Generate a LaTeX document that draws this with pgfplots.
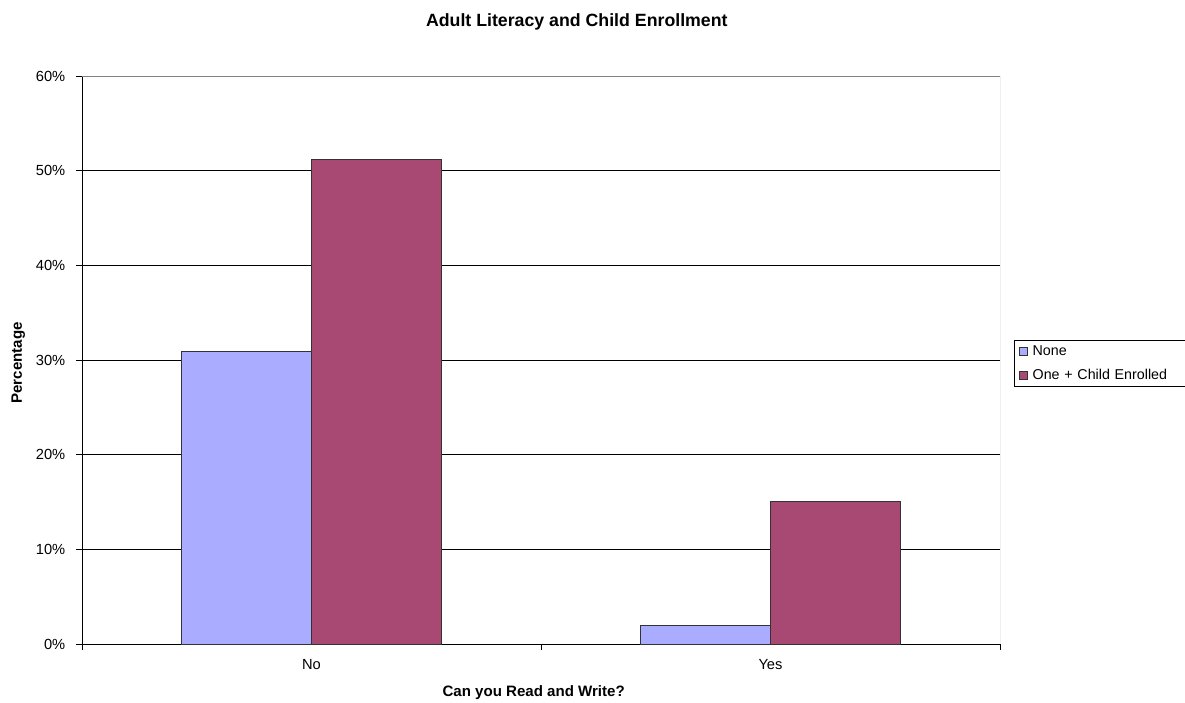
\documentclass[border=0pt]{standalone}
\usepackage{fontspec}
\setmainfont{Liberation Sans}
\usepackage{pgfplots}
\pgfplotsset{compat=1.18}
\definecolor{cnone}{RGB}{170,172,255}
\definecolor{cone}{RGB}{168,73,116}
\begin{document}
\begin{tikzpicture}
\useasboundingbox (-61.5pt,-44.25pt) rectangle (827.25pt,483pt);
\begin{axis}[
  at={(0pt,0pt)}, anchor=south west,
  scale only axis, width=688.5pt, height=426pt,
  xmin=-0.5, xmax=1.5, ymin=0, ymax=60,
  axis x line*=bottom, axis y line*=left,
  axis line style={black, line width=0.7pt},
  tick align=outside, major tick length=4.5pt,
  tick style={black, line width=0.7pt},
  ytick={0,10,20,30,40,50,60},
  yticklabel={\pgfmathprintnumber{\tick}\%},
  /pgf/number format/assume math mode=true,
  ymajorgrids, grid style={black, line width=0.6pt},
  xtick={-0.5,0.5,1.5}, xticklabels={,,},
  extra x ticks={0,1}, extra x tick labels={No,Yes},
  extra x tick style={major tick length=0pt, xticklabel style={yshift=-8pt}},
  ticklabel style={font=\fontsize{11}{13}\selectfont},
  yticklabel style={xshift=-4.5pt},
  title={\textbf{Adult Literacy and Child Enrollment}},
  title style={at={(axis description cs:0.539,1.081)}, anchor=center, font=\fontsize{13.3}{15}\selectfont},
  xlabel={\textbf{Can you Read and Write?}},
  xlabel style={at={(axis description cs:0.492,-0.0863)}, anchor=center, font=\fontsize{11.3}{13}\selectfont},
  ylabel={\textbf{Percentage}},
  ylabel style={at={(axis description cs:-0.0695,0.495)}, anchor=center, font=\fontsize{11.3}{13}\selectfont},
  legend style={at={(1.0153,0.535)}, anchor=north west, draw=black, line width=0.7pt,
    font=\fontsize{10.7}{13}\selectfont, inner xsep=3pt, inner ysep=1.5pt, row sep=5pt,
    /tikz/every odd column/.append style={column sep=2pt},
    text width=110pt},
  legend cell align=left,
]
\addplot[ybar, bar width=0.284, bar shift=-0.142, fill=cnone, draw=black!80, line width=0.6pt,
  legend image code/.code={\draw[fill=cnone, draw=black!80, line width=0.6pt] (0pt,-3pt) rectangle (6pt,3pt);}]
  coordinates {(0,30.9) (1,2.0)};
\addlegendentry{None}
\addplot[ybar, bar width=0.284, bar shift=0.142, fill=cone, draw=black!80, line width=0.6pt,
  legend image code/.code={\draw[fill=cone, draw=black!80, line width=0.6pt] (0pt,-3pt) rectangle (6pt,3pt);}]
  coordinates {(0,51.2) (1,15.1)};
\addlegendentry{One + Child Enrolled}
\draw[gray, line width=0.7pt] (rel axis cs:0,1) -- (rel axis cs:1,1) -- (rel axis cs:1,0);
\end{axis}
\end{tikzpicture}
\end{document}
